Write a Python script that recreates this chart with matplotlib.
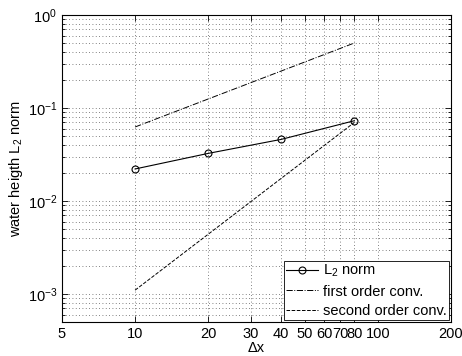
import matplotlib
matplotlib.use("Agg")
import matplotlib.pyplot as plt
from matplotlib.ticker import FixedLocator, FixedFormatter, LogLocator, NullFormatter

plt.rcParams['font.family'] = ['Liberation Sans', 'DejaVu Sans']
plt.rcParams['mathtext.fontset'] = 'custom'
plt.rcParams['mathtext.rm'] = 'Liberation Sans'
plt.rcParams['mathtext.it'] = 'Liberation Sans'

# grid spacing and errors
dx = [10, 20, 40, 80]
l2_norm = [0.0221, 0.0325, 0.046, 0.073]
dx_ref = [10, 80]
first_order = [0.0625, 0.5]
second_order = [0.0011, 0.07]

xticks = [5, 10, 20, 30, 40, 50, 60, 70, 80, 100, 200]
xticklabels = ['5', '10', '20', '30', '40', '50', '60', '70', '80', '100', '200']

fig = plt.figure(figsize=(4.62, 3.56), dpi=100)
ax = fig.add_axes([62 / 462, 1 - 322 / 356, 389 / 462, 307 / 356])

ax.loglog(dx, l2_norm, 'k-o', lw=0.8, ms=5, mfc='none', mew=0.8, label='L$_2$ norm')
ax.loglog(dx_ref, first_order, 'k-.', lw=0.7, label='first order conv.')
ax.loglog(dx_ref, second_order, 'k--', lw=0.7, label='second order conv.')

ax.set_xlim(5, 200)
ax.set_ylim(5e-4, 1)

ax.xaxis.set_major_locator(FixedLocator(xticks))
ax.xaxis.set_major_formatter(FixedFormatter(xticklabels))
ax.xaxis.set_minor_locator(FixedLocator([]))
ax.yaxis.set_major_locator(LogLocator(base=10, numticks=10))
ax.yaxis.set_minor_locator(LogLocator(base=10, subs=range(2, 10), numticks=10))
ax.yaxis.set_minor_formatter(NullFormatter())

ax.tick_params(which='both', direction='in', top=True, right=True, labelsize=10.5)
ax.tick_params(which='major', length=4, width=0.6)
ax.tick_params(which='minor', length=2, width=0.6)
for s in ax.spines.values():
    s.set_linewidth(0.8)

grid_style = dict(ls=(0, (1, 3)), color='0.35', lw=0.6)
ax.grid(True, which='major', axis='x', **grid_style)
ax.grid(True, which='both', axis='y', **grid_style)

ax.set_xlabel('Δx', fontsize=10.5, labelpad=0)
ax.set_ylabel('water heigth L$_2$ norm', fontsize=10.5, labelpad=2)

leg = ax.legend(loc='lower right', fontsize=10.5, frameon=True, fancybox=False,
                edgecolor='k', framealpha=1, borderpad=0.15, labelspacing=0.35,
                handlelength=2.2, handletextpad=0.3, borderaxespad=0.15)
leg.get_frame().set_linewidth(0.6)

fig.savefig('out.png', dpi=100)
